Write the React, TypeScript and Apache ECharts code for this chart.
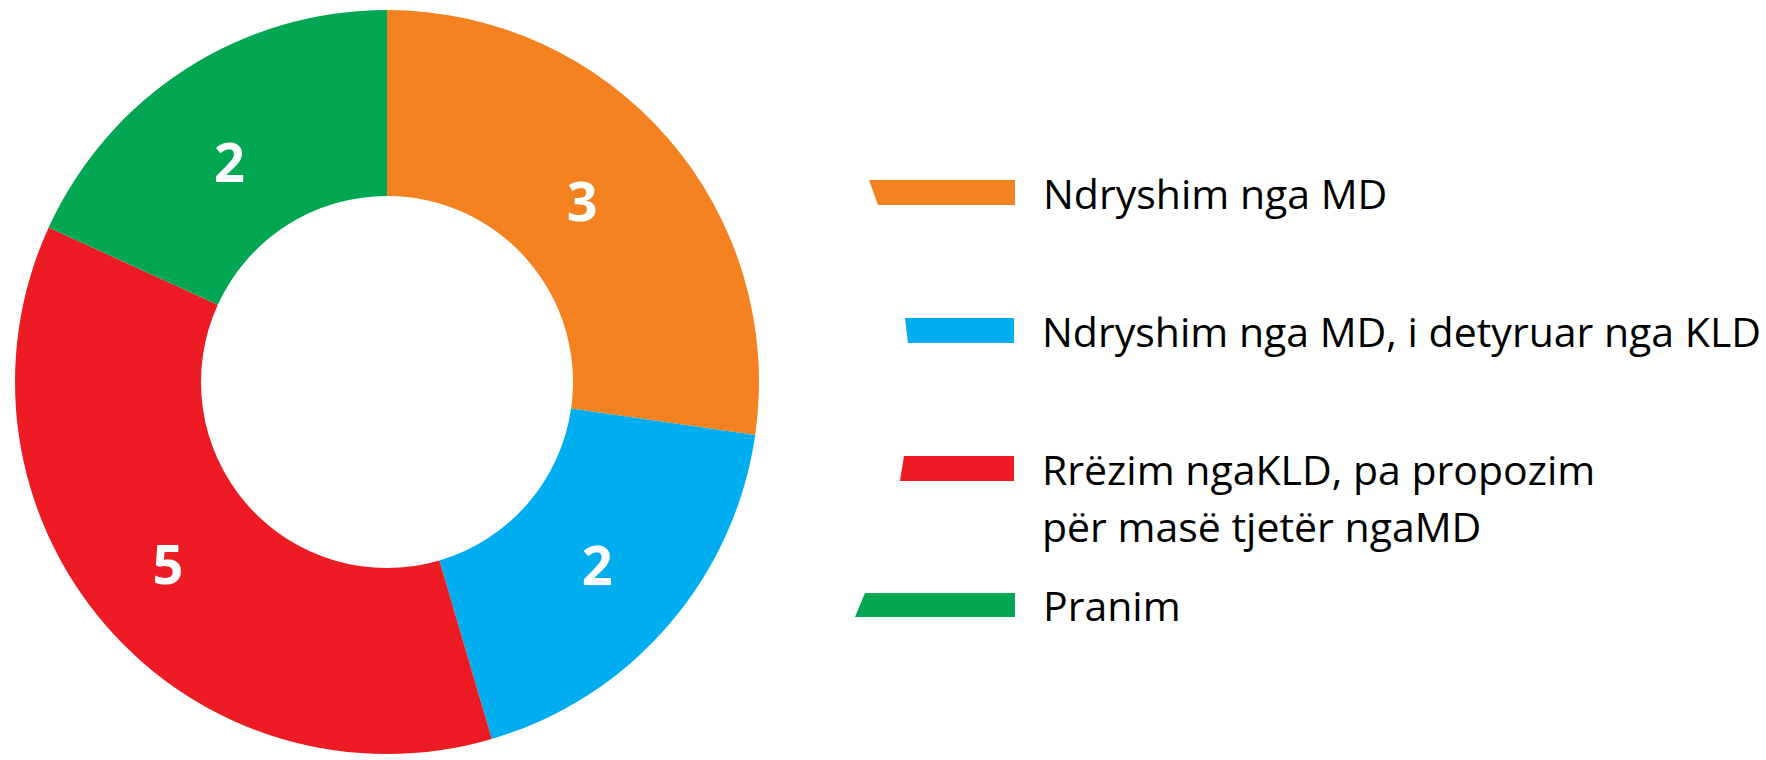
import React, { useEffect, useRef } from 'react';
import * as echarts from 'echarts';

// ---- data ----
const categories = [
  'Ndryshim nga MD',
  'Ndryshim nga MD, i detyruar nga KLD',
  'Rrëzim ngaKLD, pa propozim\npër masë tjetër ngaMD',
  'Pranim',
];
// wedge sizes as drawn in the picture
const sliceValues = [3, 2, 4, 2];
// numbers printed on the wedges
const printedLabels = ['3', '2', '5', '2'];
const colors = ['#F58220', '#00AEEF', '#ED1C24', '#00A651'];

// ---- styling (positions / shapes, not data) ----
const LINE_H = 57;
const FONT = 'Open Sans';
const legendMarks = [
  { left: 869, cy: 192.5, w: 146, h: 25, path: 'M0 0L146 0L146 25L9 25Z' },
  { left: 905, cy: 330.5, w: 109, h: 25, path: 'M0 0L109 0L109 25L3 25Z' },
  { left: 900, cy: 468.5, w: 114, h: 25, path: 'M4 0L114 0L114 25L0 25Z' },
  { left: 855, cy: 605, w: 160, h: 24, path: 'M10 0L160 0L160 24L0 24Z' },
];
const labelNudge = [
  [-18, 3],
  [-3, -3],
  [-6, -4],
  [-5, 16],
];

export default function App() {
  const ref = useRef<HTMLDivElement>(null);
  useEffect(() => {
    if (!ref.current) return;
    const chart = echarts.init(ref.current, undefined, { renderer: 'svg' });
    const legends = categories.map((name, i) => {
      const m = legendMarks[i];
      const lines = name.split('\n').length;
      const shown = lines > 1 ? 2 * lines - 1 : 1;
      const boxH = shown * LINE_H;
      return {
        data: [{ name, icon: 'path://' + m.path }],
        formatter: (n: string) => (lines > 1 ? ' \n'.repeat(lines - 1) + n : n),
        left: m.left,
        top: m.cy - boxH / 2,
        orient: 'horizontal',
        itemWidth: m.w,
        itemHeight: m.h,
        padding: 0,
        selectedMode: false,
        textStyle: {
          fontFamily: FONT,
          fontSize: 41,
          color: '#000',
          lineHeight: LINE_H,
          padding: [0, 0, 0, 23],
        },
      };
    });
    chart.setOption({
      animation: false,
      backgroundColor: '#ffffff',
      legend: legends,
      series: [
        {
          type: 'pie',
          center: [387, 382],
          radius: [186, 372],
          startAngle: 90,
          clockwise: true,
          avoidLabelOverlap: false,
          itemStyle: { borderWidth: 0 },
          label: {
            show: true,
            position: 'inside',
            color: '#ffffff',
            fontFamily: FONT,
            fontWeight: 'bold',
            fontSize: 54,
            formatter: (p: any) => printedLabels[p.dataIndex],
          },
          labelLayout: (p: any) => ({
            dx: labelNudge[p.dataIndex][0],
            dy: labelNudge[p.dataIndex][1],
          }),
          labelLine: { show: false },
          emphasis: { disabled: true },
          data: categories.map((name, i) => ({
            name,
            value: sliceValues[i],
            itemStyle: { color: colors[i] },
          })),
        },
      ],
    });
    return () => chart.dispose();
  }, []);
  return (
    <div
      ref={ref}
      style={{ position: 'fixed', left: 0, top: 0, width: 1766, height: 760 }}
    />
  );
}
